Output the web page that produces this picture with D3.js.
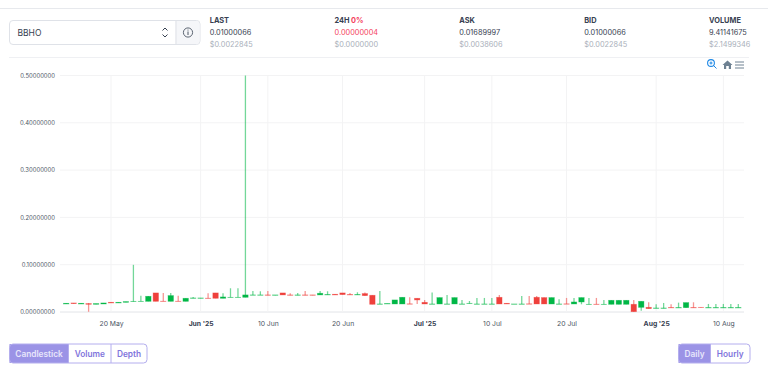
<!DOCTYPE html>
<html>
<head>
<meta charset="utf-8">
<script src="https://cdn.jsdelivr.net/npm/d3@7"></script>
<style>
  html, body { margin: 0; padding: 0; background: #fff; overflow: hidden; }
  svg { display: block; font-family: Inter, "Noto Sans", sans-serif; }
</style>
</head>
<body>
<div id="root"></div>
<script>
// дни
const days = [
  '05-14','05-15','05-16','05-17','05-18','05-19','05-20','05-21','05-22','05-23',
  '05-24','05-25','05-26','05-27','05-28','05-29','05-30','05-31','06-01','06-02',
  '06-03','06-04','06-05','06-06','06-07','06-08','06-09','06-10','06-11','06-12',
  '06-13','06-14','06-15','06-16','06-17','06-18','06-19','06-20','06-21','06-22',
  '06-23','06-24','06-25','06-26','06-27','06-28','06-29','06-30','07-01','07-02',
  '07-03','07-04','07-05','07-06','07-07','07-08','07-09','07-10','07-11','07-12',
  '07-13','07-14','07-15','07-16','07-17','07-18','07-19','07-20','07-21','07-22',
  '07-23','07-24','07-25','07-26','07-27','07-28','07-29','07-30','07-31','08-01',
  '08-02','08-03','08-04','08-05','08-06','08-07','08-08','08-09','08-10','08-11','08-12'
];

// свечи
const opens = [
  .0170,.0191,.0170,.0177,.0163,.0170,.0205,.0191,.0205,.0219,
  .0226,.0226,.0403,.0228,.0226,.0228,.0226,.0290,.0290,.0292,
  .0403,.0290,.0311,.0311,.0311,.0361,.0361,.0361,.0354,.0403,
  .0361,.0354,.0361,.0361,.0361,.0361,.0375,.0403,.0368,.0361,
  .0389,.0354,.0170,.0170,.0170,.0170,.0172,.0290,.0205,.0170,
  .0170,.0170,.0170,.0170,.0177,.0170,.0170,.0170,.0311,.0184,
  .0170,.0170,.0172,.0311,.0304,.0170,.0170,.0172,.0170,.0212,
  .0163,.0165,.0163,.0163,.0163,.0163,.0163,.0099,.0099,.0078,
  .0078,.0094,.0092,.0092,.0094,.0099,.0092,.0092,.0092,.0092,.0092
];
const closes = [
  .0184,.0177,.0184,.0163,.0177,.0191,.0191,.0205,.0219,.0226,
  .0226,.0332,.0226,.0226,.0346,.0226,.0290,.0297,.0297,.0290,
  .0290,.0318,.0311,.0311,.0361,.0361,.0361,.0354,.0361,.0361,
  .0354,.0361,.0354,.0354,.0396,.0368,.0361,.0368,.0361,.0368,
  .0346,.0163,.0170,.0177,.0255,.0311,.0170,.0255,.0170,.0170,
  .0304,.0170,.0304,.0170,.0184,.0170,.0170,.0170,.0170,.0170,
  .0170,.0170,.0170,.0170,.0170,.0304,.0170,.0170,.0212,.0304,
  .0163,.0163,.0163,.0247,.0247,.0247,.0007,.0226,.0071,.0085,
  .0085,.0092,.0092,.0198,.0092,.0092,.0092,.0092,.0092,.0092,.0092
];
const highs = [
  .0184,.0191,.0184,.0191,.0177,.0191,.0205,.0205,.0219,.0997,
  .0346,.0339,.0403,.0403,.0403,.0346,.0290,.0318,.0297,.0396,
  .0403,.0396,.0502,.0502,.5000,.0445,.0438,.0445,.0361,.0403,
  .0396,.0403,.0445,.0361,.0445,.0438,.0375,.0403,.0403,.0417,
  .0410,.0354,.0445,.0177,.0255,.0311,.0311,.0290,.0255,.0410,
  .0304,.0361,.0304,.0255,.0233,.0297,.0297,.0297,.0361,.0184,
  .0170,.0339,.0339,.0339,.0304,.0304,.0269,.0297,.0297,.0304,
  .0297,.0297,.0255,.0247,.0247,.0247,.0255,.0226,.0205,.0163,
  .0191,.0163,.0198,.0198,.0205,.0099,.0170,.0170,.0170,.0170,.0170
];
const lows = [
  .0170,.0177,.0170,.0005,.0163,.0170,.0191,.0191,.0205,.0219,
  .0226,.0226,.0226,.0226,.0226,.0226,.0226,.0290,.0290,.0290,
  .0290,.0290,.0311,.0311,.0311,.0361,.0361,.0354,.0354,.0361,
  .0354,.0354,.0354,.0354,.0361,.0361,.0361,.0368,.0361,.0361,
  .0346,.0163,.0170,.0170,.0170,.0170,.0170,.0170,.0170,.0170,
  .0170,.0170,.0170,.0170,.0177,.0170,.0170,.0170,.0170,.0170,
  .0170,.0170,.0170,.0170,.0170,.0170,.0170,.0170,.0170,.0163,
  .0163,.0163,.0163,.0163,.0163,.0163,.0007,.0028,.0071,.0078,
  .0078,.0092,.0092,.0092,.0092,.0092,.0092,.0092,.0092,.0092,.0092
];

// оси
const yTicks = [0, 0.1, 0.2, 0.3, 0.4, 0.5];
const xTickDays = ['05-20','06-01','06-10','06-20','07-01','07-10','07-20','08-01','08-10'];
const xTickLabels = ['20 May',"Jun '25",'10 Jun','20 Jun',"Jul '25",'10 Jul','20 Jul',"Aug '25",'10 Aug'];

// шапка
const statTitles = ['LAST', '24H', 'ASK', 'BID', 'VOLUME'];
const statValues = ['0.01000066', '0.00000004', '0.01689997', '0.01000066', '9.41141675'];
const statUsd = ['$0.0022845', '$0.0000000', '$0.0038606', '$0.0022845', '$2.1499346'];

const toDate = d => new Date(`2025-${d}T00:00:00Z`);
const width = 768, height = 372;
const up = '#00B746', down = '#EF403C';

const svg = d3.select('#root').append('svg').attr('width', width).attr('height', height);

// линии-разделители
svg.append('line').attr('x1', 0).attr('x2', width).attr('y1', 8.5).attr('y2', 8.5).attr('stroke', '#e7e9ed');
svg.append('line').attr('x1', 9).attr('x2', 749).attr('y1', 57.5).attr('y2', 57.5).attr('stroke', '#eff0f3');

// селект
svg.append('rect').attr('x', 9.5).attr('y', 20.5).attr('width', 190.5).attr('height', 24).attr('rx', 3.5)
  .attr('fill', '#fff').attr('stroke', '#dfe2e8');
svg.append('path').attr('d', 'M176.5 21H196.5a3 3 0 0 1 3 3V41a3 3 0 0 1 -3 3H176.5Z').attr('fill', '#f5f6f9');
svg.append('line').attr('x1', 176).attr('x2', 176).attr('y1', 21).attr('y2', 44).attr('stroke', '#dfe2e8').attr('stroke-width', 1.2);
svg.append('text').attr('x', 17.5).attr('y', 35.5).attr('font-size', 8.5).attr('fill', '#374151').text('BBHO');
svg.append('path').attr('d', 'M162.5 30.5L165 28L167.5 30.5M162.5 34.5L165 37L167.5 34.5')
  .attr('fill', 'none').attr('stroke', '#374151').attr('stroke-width', 1);
svg.append('circle').attr('cx', 188).attr('cy', 32.5).attr('r', 4.6).attr('fill', 'none').attr('stroke', '#4b5563').attr('stroke-width', 0.9);
svg.append('line').attr('x1', 188).attr('x2', 188).attr('y1', 31.5).attr('y2', 35).attr('stroke', '#4b5563').attr('stroke-width', 1);
svg.append('circle').attr('cx', 188).attr('cy', 30).attr('r', 0.6).attr('fill', '#4b5563');

// колонки шапки
const statX = d3.scalePoint().domain(statTitles).range([209.7, 709]);
const stats = svg.append('g').selectAll('g').data(statTitles).join('g')
  .attr('transform', d => `translate(${statX(d)},0)`);
stats.append('text').attr('y', 22.8).attr('font-size', 7.4).attr('font-weight', 700).attr('fill', '#374151').text(d => d);
stats.append('text').attr('y', 34.8).attr('font-size', 7.35)
  .attr('fill', d => d === '24H' ? '#f43f5e' : '#374151')
  .text((d, i) => statValues[i]);
stats.append('text').attr('y', 46.8).attr('font-size', 7.35).attr('fill', '#a9afba').text((d, i) => statUsd[i]);
svg.append('text').attr('x', statX('24H') + 16.5).attr('y', 22.8).attr('font-size', 7.4).attr('font-weight', 700)
  .attr('fill', '#f43f5e').text('0%');

// шкалы
const x = d3.scaleUtc()
  .domain([toDate(days[0]), toDate(days[days.length - 1])])
  .range([66.2, 738.3]);
const y = d3.scaleLinear().domain([0, 0.5]).range([312, 75.5]);

// сетка
svg.append('g').selectAll('line').data(yTicks).join('line')
  .attr('x1', 60).attr('x2', 744)
  .attr('y1', d => y(d)).attr('y2', d => y(d))
  .attr('stroke', d => d === 0 ? '#e2e4e8' : '#f3f3f4');
svg.append('g').selectAll('line').data(xTickDays).join('line')
  .attr('x1', d => x(toDate(d))).attr('x2', d => x(toDate(d)))
  .attr('y1', y(0.5)).attr('y2', y(0))
  .attr('stroke', '#f3f3f4');

// ось Y
const gy = svg.append('g').attr('transform', 'translate(56,0)')
  .call(d3.axisLeft(y).tickValues(yTicks).tickSize(0).tickFormat(d => d.toFixed(8)));
gy.select('.domain').remove();
gy.selectAll('text').attr('font-family', 'Inter, "Noto Sans", sans-serif').attr('font-size', 5.9).attr('fill', '#4b5563').attr('x', -1);

// ось X
const gx = svg.append('g').attr('transform', `translate(0,${y(0)})`)
  .call(d3.axisBottom(x).tickValues(xTickDays.map(toDate)).tickSize(0)
    .tickFormat((d, i) => xTickLabels[i]));
gx.select('.domain').remove();
gx.selectAll('text')
  .attr('font-family', 'Inter, "Noto Sans", sans-serif')
  .attr('font-size', 6.8).attr('y', 9.5)
  .attr('font-weight', (d, i) => xTickLabels[i].includes("'") ? 700 : 400)
  .attr('fill', (d, i) => xTickLabels[i].includes("'") ? '#374151' : '#4b5563');

// свечи
const candles = days.map((d, i) => ({ d, o: opens[i], c: closes[i], h: highs[i], l: lows[i] }));
const colorOf = e => e.c >= e.o ? up : down;
const bodyW = 5.4;
const gc = svg.append('g').selectAll('g').data(candles).join('g');
gc.append('line')
  .attr('x1', e => x(toDate(e.d))).attr('x2', e => x(toDate(e.d)))
  .attr('y1', e => y(e.h)).attr('y2', e => y(e.l))
  .attr('stroke', colorOf).attr('stroke-width', 1.3).attr('stroke-opacity', 0.55);
gc.append('rect')
  .attr('x', e => x(toDate(e.d)) - bodyW / 2)
  .attr('width', bodyW)
  .attr('y', e => y(Math.max(e.o, e.c)))
  .attr('height', e => Math.max(0.3, Math.abs(y(e.o) - y(e.c))))
  .attr('fill', colorOf)
  .attr('stroke', colorOf).attr('stroke-width', 0.7).attr('stroke-opacity', 0.5);

// иконки тулбара
const tools = svg.append('g');
tools.append('circle').attr('cx', 711).attr('cy', 63).attr('r', 3.4).attr('fill', 'none').attr('stroke', '#1e88e5').attr('stroke-width', 1.1);
tools.append('path').attr('d', 'M713.5 65.5L716.5 68.5M709.5 63H712.5M711 61.5V64.5').attr('fill', 'none').attr('stroke', '#1e88e5').attr('stroke-width', 1);
tools.append('path').attr('d', 'M727.5 60.5L732.5 65H731V69H728.8V66H726.2V69H724V65H722.5Z').attr('fill', '#6e8192');
tools.append('path').attr('d', 'M735 62H744M735 65H744M735 68H744').attr('fill', 'none').attr('stroke', '#6e8192').attr('stroke-width', 1);

// кнопки
const btnFont = 8.3;
function buttonGroup(items, y0, h) {
  const g = svg.append('g');
  items.forEach(b => {
    g.append('rect').attr('x', b.x).attr('y', y0).attr('width', b.w).attr('height', h)
      .attr('fill', b.on ? '#9b93e6' : '#fff');
    g.append('text').attr('x', b.x + b.w / 2).attr('y', y0 + h / 2 + 3.1)
      .attr('text-anchor', 'middle').attr('font-size', btnFont).attr('font-weight', 600)
      .attr('fill', b.on ? '#e8e6fb' : '#7f75dc').text(b.label);
  });
  const x0 = items[0].x;
  const last = items[items.length - 1];
  items.slice(1).forEach(b => {
    g.append('line').attr('x1', b.x).attr('x2', b.x).attr('y1', y0).attr('y2', y0 + h)
      .attr('stroke', '#b4aeee');
  });
  g.append('rect').attr('x', x0).attr('y', y0).attr('width', last.x + last.w - x0).attr('height', h)
    .attr('rx', 3.5).attr('fill', 'none').attr('stroke', '#b4aeee');
}
buttonGroup([
  { x: 9.5, w: 59, label: 'Candlestick', on: true },
  { x: 68.5, w: 42.5, label: 'Volume', on: false },
  { x: 111, w: 36, label: 'Depth', on: false }
], 344, 19);
buttonGroup([
  { x: 678.5, w: 32, label: 'Daily', on: true },
  { x: 710.5, w: 39.5, label: 'Hourly', on: false }
], 344, 19);
</script>
</body>
</html>
